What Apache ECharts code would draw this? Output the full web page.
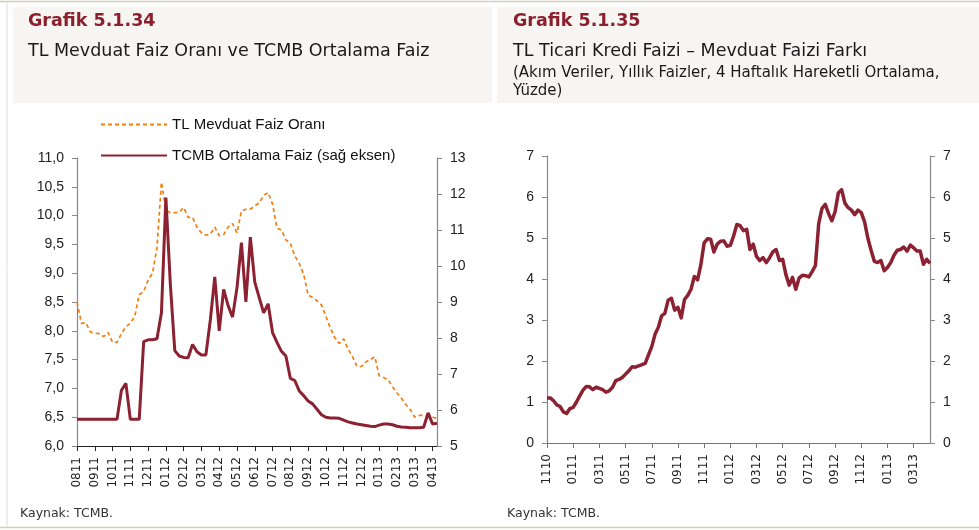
<!DOCTYPE html>
<html><head><meta charset="utf-8">
<script src="https://cdn.jsdelivr.net/npm/echarts@6/dist/echarts.min.js"></script>
<style>html,body{margin:0;padding:0;background:#fff}#c{width:979px;height:530px}</style>
</head><body><div id="c"></div>
<script>
// ---------- Grafik 5.1.34 ----------
const leftMonthLabels = ['0811','0911','1011','1111','1211','0112','0212','0312','0412','0512','0612','0712','0812','0912','1012','1112','1212','0113','0213','0313','0413'];
const mevduatName = 'TL Mevduat Faiz Oranı';
const tcmbName = 'TCMB Ortalama Faiz (sağ eksen)';
const mevduat = [8.50,8.13,8.14,7.98,7.96,7.95,7.90,7.97,7.80,7.80,
  7.95,8.07,8.13,8.25,8.63,8.68,8.88,9.00,9.45,10.58,
  10.10,10.05,10.05,10.06,10.14,9.97,9.97,9.80,9.70,9.66,
  9.68,9.80,9.65,9.67,9.80,9.86,9.70,10.08,10.11,10.11,
  10.17,10.22,10.35,10.40,10.20,9.78,9.75,9.58,9.52,9.30,
  9.17,8.98,8.62,8.58,8.52,8.45,8.25,8.05,7.88,7.78,
  7.86,7.68,7.55,7.38,7.38,7.46,7.50,7.55,7.22,7.19,
  7.15,7.03,6.92,6.83,6.72,6.63,6.50,6.53,6.53,6.51,
  6.50,6.48];
const tcmb = [5.74,5.74,5.74,5.74,5.74,5.74,5.74,5.74,5.74,5.74,
  6.55,6.74,5.74,5.74,5.74,7.90,7.95,7.95,7.98,8.70,
  11.90,9.50,7.65,7.50,7.46,7.45,7.82,7.62,7.53,7.53,
  8.50,9.70,8.20,9.35,8.90,8.58,9.40,10.65,9.00,10.80,
  9.55,9.12,8.70,8.95,8.15,7.88,7.63,7.50,6.88,6.82,
  6.53,6.40,6.25,6.17,6.02,5.87,5.80,5.78,5.78,5.77,
  5.72,5.67,5.64,5.61,5.59,5.57,5.55,5.54,5.58,5.61,
  5.61,5.59,5.55,5.53,5.52,5.51,5.51,5.51,5.52,5.92,
  5.61,5.63];
const leftStep = 4;

// ---------- Grafik 5.1.35 ----------
const rightMonthLabels = ['1110','0111','0311','0511','0711','0911','1111','0112','0312','0512','0712','0912','1112','0113','0313'];
const spread = [1.10,1.10,1.03,0.93,0.89,0.76,0.72,0.84,0.87,1.00,
  1.15,1.29,1.38,1.37,1.30,1.36,1.33,1.30,1.24,1.27,
  1.36,1.52,1.55,1.60,1.68,1.76,1.86,1.85,1.88,1.91,
  1.94,2.15,2.35,2.65,2.82,3.10,3.16,3.48,3.53,3.24,
  3.31,3.05,3.50,3.60,3.75,4.06,3.98,4.35,4.88,4.98,
  4.97,4.66,4.85,4.92,4.93,4.80,4.82,5.05,5.33,5.30,
  5.18,5.21,4.72,4.85,4.55,4.45,4.52,4.40,4.52,4.66,
  4.72,4.45,4.48,4.10,3.85,4.04,3.75,4.02,4.09,4.08,
  4.05,4.18,4.33,5.35,5.72,5.82,5.60,5.42,5.64,6.10,
  6.18,5.85,5.74,5.68,5.57,5.68,5.62,5.40,5.00,4.70,
  4.43,4.40,4.45,4.20,4.28,4.40,4.58,4.70,4.72,4.78,
  4.68,4.83,4.76,4.68,4.68,4.36,4.48,4.38];
const rightStep = 8;

const leftCats = mevduat.map((v, i) => i % leftStep === 0 && leftMonthLabels[i / leftStep] ? leftMonthLabels[i / leftStep] : 'L' + i);
const rightCats = spread.map((v, i) => i % rightStep === 0 && rightMonthLabels[i / rightStep] ? rightMonthLabels[i / rightStep] : 'R' + i);

const dark = '#8B2131';
const orange = '#F07F10';
const axisFont = 'Liberation Sans, Arial, sans-serif';
const titleFont = 'DejaVu Sans, sans-serif';

function xAxisCfg(gridIndex, cats, step, lineColor) {
  return {
    type: 'category', gridIndex, data: cats, boundaryGap: false,
    axisLine: { lineStyle: { color: lineColor, width: 1 } },
    axisTick: { length: 5, interval: (i) => i % step === 0, lineStyle: { color: lineColor } },
    axisLabel: { rotate: 90, interval: (i) => i % step === 0, margin: 11,
      fontFamily: titleFont, fontSize: 12, color: '#222' },
    splitLine: { show: false }
  };
}
function yAxisCfg(gridIndex, pos, min, max, interval, fmt) {
  return {
    type: 'value', gridIndex, position: pos, min, max, interval,
    axisLine: { show: true, lineStyle: { color: '#888', width: 1.2 } },
    axisTick: { show: true, length: 5, lineStyle: { color: '#888' } },
    axisLabel: { fontFamily: axisFont, fontSize: 14, color: '#222', margin: 13, formatter: fmt },
    splitLine: { show: false }
  };
}

const chart = echarts.init(document.getElementById('c'), null, { renderer: 'canvas' });
chart.setOption({
  animation: false,
  backgroundColor: '#fff',
  graphic: [
    { type: 'line', shape: { x1: 0, y1: 1.5, x2: 979, y2: 1.5 }, style: { stroke: '#D6CDB8', lineWidth: 1.5 } },
    { type: 'line', shape: { x1: 0, y1: 527.5, x2: 979, y2: 527.5 }, style: { stroke: '#D6CDB8', lineWidth: 1.5 } },
    { type: 'line', shape: { x1: 7, y1: 2, x2: 7, y2: 527 }, style: { stroke: '#DDDDDD', lineWidth: 1 } },
    { type: 'rect', shape: { x: 13, y: 7, width: 479, height: 96 }, style: { fill: '#F6F5F1' } },
    { type: 'rect', shape: { x: 497, y: 7, width: 482, height: 96 }, style: { fill: '#F6F5F1' } },
    { type: 'text', left: 28, top: 12, style: { text: 'Grafik 5.1.34', font: 'bold 17.5px ' + titleFont, fill: '#8B1F2E' } },
    { type: 'text', left: 28, top: 42, style: { text: 'TL Mevduat Faiz Oranı ve TCMB Ortalama Faiz', font: '17.5px ' + titleFont, fill: '#1a1a1a' } },
    { type: 'text', left: 513, top: 12, style: { text: 'Grafik 5.1.35', font: 'bold 17.5px ' + titleFont, fill: '#8B1F2E' } },
    { type: 'text', left: 513, top: 42, style: { text: 'TL Ticari Kredi Faizi – Mevduat Faizi Farkı', font: '17.5px ' + titleFont, fill: '#1a1a1a' } },
    { type: 'text', left: 513, top: 66, style: { text: '(Akım Veriler, Yıllık Faizler, 4 Haftalık Hareketli Ortalama,', font: '15px ' + titleFont, fill: '#1a1a1a' } },
    { type: 'text', left: 513, top: 84, style: { text: 'Yüzde)', font: '15px ' + titleFont, fill: '#1a1a1a' } },
    { type: 'text', left: 20, top: 507, style: { text: 'Kaynak: TCMB.', font: '12.5px ' + titleFont, fill: '#333' } },
    { type: 'text', left: 507, top: 507, style: { text: 'Kaynak: TCMB.', font: '12.5px ' + titleFont, fill: '#333' } }
  ],
  legend: {
    data: [mevduatName, tcmbName], orient: 'vertical', left: 95, top: 112,
    itemWidth: 66, itemHeight: 14, itemGap: 16,
    itemStyle: { opacity: 0 },
    textStyle: { fontFamily: axisFont, fontSize: 15, color: '#111' }
  },
  grid: [
    { left: 77, right: 542, top: 158, bottom: 84 },
    { left: 547, right: 49, top: 156, bottom: 87 }
  ],
  xAxis: [
    xAxisCfg(0, leftCats, leftStep, '#222'),
    xAxisCfg(1, rightCats, rightStep, '#777')
  ],
  yAxis: [
    yAxisCfg(0, 'left', 6, 11, 0.5, (v) => v.toFixed(1).replace('.', ',')),
    yAxisCfg(0, 'right', 5, 13, 1, (v) => String(v)),
    yAxisCfg(1, 'left', 0, 7, 1, (v) => String(v)),
    yAxisCfg(1, 'right', 0, 7, 1, (v) => String(v))
  ],
  series: [
    { name: mevduatName, type: 'line', xAxisIndex: 0, yAxisIndex: 0, data: mevduat, symbol: 'none',
      lineStyle: { color: orange, width: 1.7, type: [4, 3] }, itemStyle: { color: orange } },
    { name: tcmbName, type: 'line', xAxisIndex: 0, yAxisIndex: 1, data: tcmb, symbol: 'none',
      lineStyle: { color: dark, width: 3 }, itemStyle: { color: dark } },
    { name: 'Fark', type: 'line', xAxisIndex: 1, yAxisIndex: 2, data: spread, symbol: 'none',
      lineStyle: { color: dark, width: 3.5, join: 'round' }, itemStyle: { color: dark } }
  ]
});
</script></body></html>
